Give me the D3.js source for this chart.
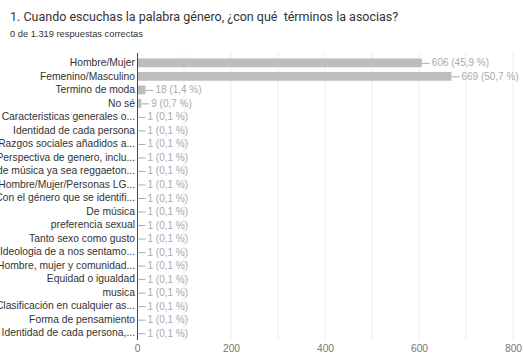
<!DOCTYPE html>
<html>
<head>
<meta charset="utf-8">
<script src="https://cdn.jsdelivr.net/npm/d3@7"></script>
<style>
  html, body { margin: 0; padding: 0; background: #fff; }
  svg { display: block; }
  text { white-space: pre; }
</style>
</head>
<body>
<svg id="chart" width="523" height="355"></svg>
<script>
// Answers to question 1 and how many respondents gave each one
const categories = [
  "Hombre/Mujer",
  "Femenino/Masculino",
  "Termino de moda",
  "No sé",
  "Caracteristicas generales o...",
  "Identidad de cada persona",
  "Razgos sociales añadidos a...",
  "Perspectiva de genero, inclu...",
  "Tipo de música ya sea reggaeton...",
  "Hombre/Mujer/Personas LG...",
  "Con el género que se identifi...",
  "De música",
  "preferencia sexual",
  "Tanto sexo como gusto",
  "Ideologia de a nos sentamo...",
  "Hombre, mujer y comunidad...",
  "Equidad o igualdad",
  "musica",
  "Clasificación en cualquier as...",
  "Forma de pensamiento",
  "Identidad de cada persona,..."
];
const counts = [606, 669, 18, 9, 1, 1, 1, 1, 1, 1, 1, 1, 1, 1, 1, 1, 1, 1, 1, 1, 1];
const totalResponses = 1319;
const xTicks = [0, 200, 400, 600, 800];
const gridValues = [100, 200, 300, 400, 500, 600, 700, 800];

const svg = d3.select("#chart");
const font = "'Liberation Sans', Arial, sans-serif";

// Heading
svg.append("text")
  .attr("x", 10).attr("y", 21)
  .attr("font-family", "Roboto, 'Liberation Sans', Arial, sans-serif")
  .attr("font-size", 12.5)
  .attr("fill", "#333")
  .text("1. Cuando escuchas la palabra género, ¿con qué  términos la asocias?");
svg.append("text")
  .attr("x", 10).attr("y", 37)
  .attr("font-family", font)
  .attr("font-size", 9.3)
  .attr("fill", "#333")
  .text("0 de 1.319 respuestas correctas");

const x = d3.scaleLinear().domain([0, 800]).range([137, 513]);
const y = d3.scaleBand().domain(categories).range([56, 340]).paddingInner(0.35).paddingOuter(0.18);

// Vertical gridlines
svg.append("g")
  .selectAll("line")
  .data(gridValues)
  .join("line")
  .attr("x1", d => x(d)).attr("x2", d => x(d))
  .attr("y1", 53).attr("y2", 340)
  .attr("stroke", "#ececec")
  .attr("stroke-width", 1);

// Bars
svg.append("g")
  .selectAll("rect")
  .data(categories)
  .join("rect")
  .attr("x", x(0))
  .attr("y", d => y(d))
  .attr("width", (d, i) => x(counts[i]) - x(0))
  .attr("height", y.bandwidth())
  .attr("fill", "#bdbdbd");

// Category axis
const yAxis = svg.append("g")
  .attr("transform", `translate(${x(0)},0)`)
  .call(d3.axisLeft(y).tickSize(0).tickPadding(2));
yAxis.select(".domain").attr("stroke", "#444").attr("d", "M0.5,53V340");
yAxis.selectAll("text")
  .attr("font-family", font)
  .attr("font-size", 10.3)
  .attr("fill", "#333");

// Value axis labels
const xAxis = svg.append("g")
  .attr("transform", "translate(0,341)")
  .call(d3.axisBottom(x).tickValues(xTicks).tickSize(0).tickPadding(4));
xAxis.select(".domain").remove();
xAxis.selectAll("text")
  .attr("font-family", font)
  .attr("font-size", 10.3)
  .attr("fill", "#777");

// Count and share next to each bar
const pct = v => d3.format(".1f")(v / totalResponses * 100).replace(".", ",");
const labels = svg.append("g")
  .selectAll("g")
  .data(categories)
  .join("g")
  .attr("transform", (d, i) => `translate(${x(counts[i])},${y(d) + y.bandwidth() / 2})`);
labels.append("line")
  .attr("x1", 0).attr("x2", 8)
  .attr("y1", 0.5).attr("y2", 0.5)
  .attr("stroke", "#aaa");
labels.append("text")
  .attr("x", 10).attr("dy", "0.35em")
  .attr("font-family", font)
  .attr("font-size", 10)
  .attr("fill", "#aaa")
  .text((d, i) => `${counts[i]} (${pct(counts[i])} %)`);
</script>
</body>
</html>
